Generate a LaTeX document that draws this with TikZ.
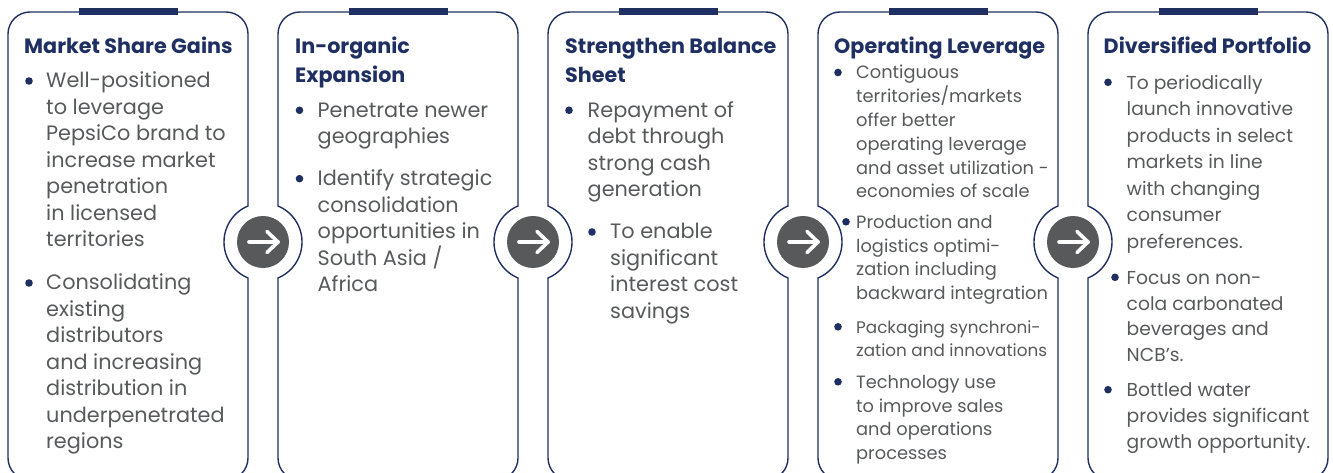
\documentclass[tikz,border=0pt]{standalone}
\usepackage{fontspec}
\setmainfont{Poppins}
\definecolor{navy}{HTML}{1F2F62}
\definecolor{txtgray}{HTML}{58595B}
\definecolor{circgray}{HTML}{58595B}
\tikzset{
 cardline/.style={draw=navy, line width=1.4pt},
 cardtitle/.style={anchor=base west, inner sep=0pt, align=left, text=navy, font=\bfseries\fontsize{20.7}{29}\selectfont},
 bodytext/.style={anchor=base west, inner sep=0pt, align=left, text=txtgray, font=\fontsize{20.8}{26.5}\selectfont},
 smalltext/.style={bodytext, font=\fontsize{17.8}{23.8}\selectfont},
 lasttext/.style={bodytext, font=\fontsize{18.7}{26.5}\selectfont},
 arrowcirc/.style={circle, fill=circgray, minimum size=52pt, inner sep=0pt},
 arrowline/.style={draw=white, line width=3.6pt, line cap=round, line join=round},
}
\newcommand\midcard[1]{\draw[cardline] (#1+22,-7) -- (#1+218,-7) arc[start angle=-90,end angle=0,radius=22pt] -- (#1+240,195) arc[start angle=247.4,end angle=112.6,radius=39pt] -- (#1+240,439) arc[start angle=0,end angle=90,radius=22pt] -- (#1+22,461) arc[start angle=90,end angle=180,radius=22pt] -- (#1,267) arc[start angle=67.4,end angle=-67.4,radius=39pt] -- (#1,15) arc[start angle=180,end angle=270,radius=22pt] -- cycle;}
\newcommand\topbar[1]{\fill[navy] (#1+71,457.5) rectangle (#1+170,465);}
\newcommand\bdot[2]{\fill[navy] (#1,#2) circle[radius=3.8pt];}
\newcommand\arrowin[1]{\draw[arrowline] ([xshift=-14pt]#1.center) -- ([xshift=15pt]#1.center); \draw[arrowline] ([xshift=4pt,yshift=10.5pt]#1.center) -- ([xshift=15pt]#1.center) -- ([xshift=4pt,yshift=-10.5pt]#1.center);}
\begin{document}
\begin{tikzpicture}[x=1pt,y=1pt]
\useasboundingbox (0,0) rectangle (1333,473);
% cards
\draw[cardline] (30,-7) -- (226,-7) arc[start angle=-90,end angle=0,radius=22pt] -- (248,195) arc[start angle=247.4,end angle=112.6,radius=39pt] -- (248,439) arc[start angle=0,end angle=90,radius=22pt] -- (30,461) arc[start angle=90,end angle=180,radius=22pt] -- (8,15) arc[start angle=180,end angle=270,radius=22pt] -- cycle;
\midcard{278}
\midcard{548}
\midcard{818}
\draw[cardline] (1110,-7) -- (1306,-7) arc[start angle=-90,end angle=0,radius=22pt] -- (1328,439) arc[start angle=0,end angle=90,radius=22pt] -- (1110,461) arc[start angle=90,end angle=180,radius=22pt] -- (1088,267) arc[start angle=67.4,end angle=-67.4,radius=39pt] -- (1088,15) arc[start angle=180,end angle=270,radius=22pt] -- cycle;
\topbar{8}\topbar{278}\topbar{548}\topbar{818}\topbar{1088}
% arrow circles
\node[arrowcirc] (c1) at (263,231) {};
\node[arrowcirc] (c2) at (533,231) {};
\node[arrowcirc] (c3) at (803,231) {};
\node[arrowcirc] (c4) at (1073,231) {};
\arrowin{c1}\arrowin{c2}\arrowin{c3}\arrowin{c4}
% card 1 (multi-line nodes are placed by the baseline of their last line)
\node[cardtitle] (t1) at (24,419) {Market Share Gains};
\bdot{29}{392}
\node[bodytext] (b11) at (46,226) {Well-positioned\\to leverage\\PepsiCo brand to\\increase market\\penetration\\in licensed\\territories};
\bdot{29}{190}
\node[bodytext] (b12) at (46,24) {Consolidating\\existing\\distributors\\and increasing\\distribution in\\underpenetrated\\regions};
% card 2
\node[cardtitle] (t2) at (295,390) {In-organic\\Expansion};
\bdot{299.5}{362.7}
\node[bodytext] (b21) at (317.5,329.2) {Penetrate newer\\geographies};
\bdot{299.5}{294.3}
\node[bodytext] (b22) at (317.5,181.3) {Identify strategic\\consolidation\\opportunities in\\South Asia /\\Africa};
% card 3
\node[cardtitle] (t3) at (565,390) {Strengthen Balance\\Sheet};
\bdot{569}{362.7}
\node[bodytext] (b31) at (587.5,276.2) {Repayment of\\debt through\\strong cash\\generation};
\bdot{592}{241}
\node[bodytext] (b32) at (610,154.5) {To enable\\significant\\interest cost\\savings};
% card 4
\node[cardtitle] (t4) at (834,419) {Operating Leverage};
\bdot{838}{400.5}
\node[smalltext] (b41) at (856,275) {Contiguous\\territories/markets\\offer better\\operating leverage\\and asset utilization -\\economies of scale};
\bdot{846}{251.2}
\node[smalltext] (b42) at (856,173.3) {Production and\\logistics optimi-\\zation including\\backward integration};
\bdot{838}{146.2}
\node[smalltext, font=\fontsize{16.8}{23.3}\selectfont] (b43) at (856,116.4) {Packaging synchroni-\\zation and innovations};
\bdot{838}{91.2}
\node[smalltext] (b44) at (856,13.3) {Technology use\\to improve sales\\and operations\\processes};
% card 5
\node[cardtitle] (t5) at (1103.5,419) {Diversified Portfolio};
\bdot{1108}{390.7}
\node[lasttext] (b51) at (1126.5,224.7) {To periodically\\launch innovative\\products in select\\markets in line\\with changing\\consumer\\preferences.};
\bdot{1115}{195.7}
\node[lasttext, font=\fontsize{18.7}{25.8}\selectfont] (b52) at (1126.5,111.3) {Focus on non-\\cola carbonated\\beverages and\\NCB’s.};
\bdot{1108}{83.3}
\node[lasttext, font=\fontsize{18.7}{25.8}\selectfont] (b53) at (1126.5,24.7) {Bottled water\\provides significant\\growth opportunity.};
\end{tikzpicture}
\end{document}
